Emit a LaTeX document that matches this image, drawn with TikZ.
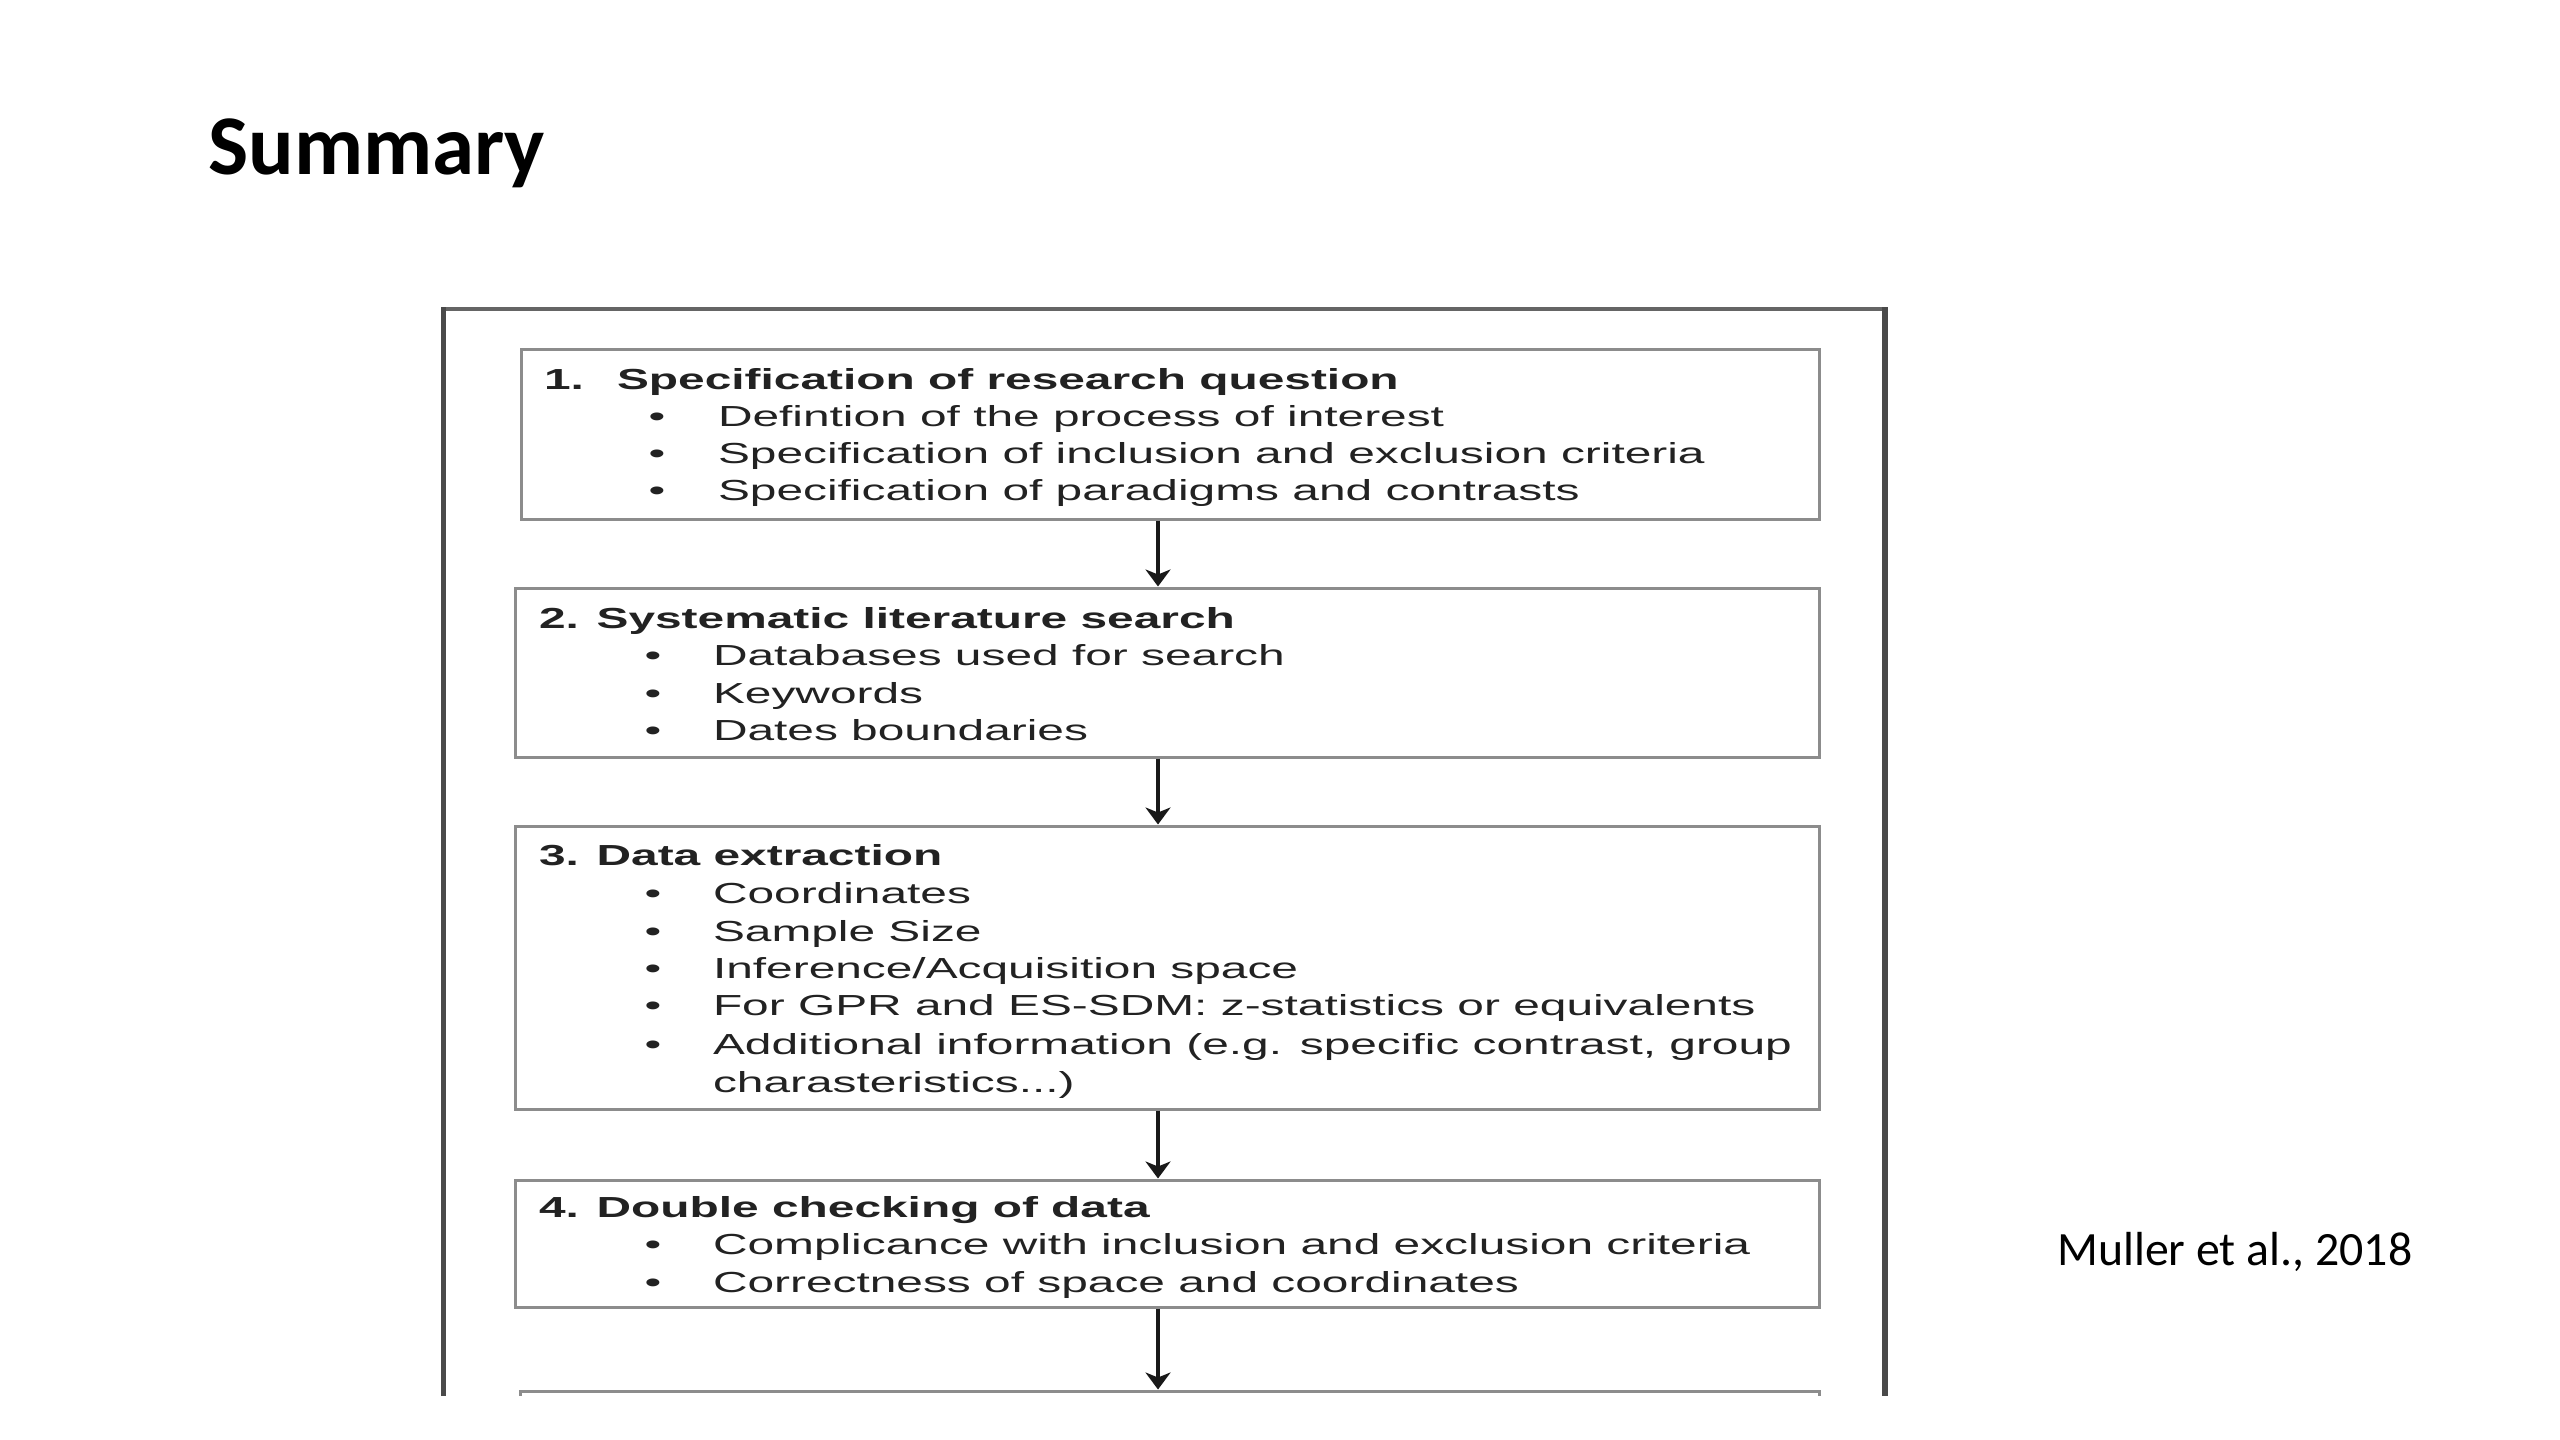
\documentclass[tikz,border=0pt]{standalone}
\usepackage{fontspec}
\usetikzlibrary{arrows.meta}
\newfontfamily\figfont[FakeStretch=1.65]{Liberation Sans}
\newfontfamily\slidefont{Carlito}
\definecolor{boxgray}{HTML}{8C8C8C}
\definecolor{framegray}{HTML}{4A4A4A}
\definecolor{figtext}{HTML}{222222}
\tikzset{
  stepbox/.style={draw=boxgray, line width=3pt, rectangle, inner sep=0pt, fill=white},
  ftext/.style={anchor=base west, inner sep=0pt, outer sep=0pt, text=figtext, font=\figfont\fontsize{29}{36}\selectfont},
  fbold/.style={ftext, font=\figfont\bfseries\fontsize{29}{36}\selectfont},
  bul/.style={anchor=base, inner sep=0pt, outer sep=0pt, text=figtext, font=\figfont\fontsize{29}{36}\selectfont},
  flow/.style={draw=black!90, line width=4.5pt, -{Stealth[length=17pt,width=25pt,inset=5pt]}},
}
\begin{document}
\begin{tikzpicture}[x=1pt,y=-1pt]
\useasboundingbox (0,0) rectangle (2560,1440);
\fill[white] (0,0) rectangle (2560,1440);

% slide title and citation
\node[anchor=base west, inner sep=0pt, font=\slidefont\bfseries\fontsize{85}{92}\selectfont] (title) at (208,174) {Summary};
\node[anchor=base west, inner sep=0pt, font=\slidefont\fontsize{47.8}{54}\selectfont] (cite) at (2057,1265) {Muller et al., 2018};

\begin{scope}
\clip (0,0) rectangle (2560,1395);
% outer frame
\draw[framegray!85, line width=3.5pt] (443,309) -- (1885,309);
\draw[framegray, line width=5pt] (443,307) -- (443,1400);
\draw[framegray, line width=6.5pt] (1885,307) -- (1885,1400);

% boxes
\node[stepbox, minimum width=1298pt, minimum height=170pt] (b1) at (1170,434) {};
\node[stepbox, minimum width=1304pt, minimum height=169pt] (b2) at (1167,672.5) {};
\node[stepbox, minimum width=1304pt, minimum height=283pt] (b3) at (1167,967.5) {};
\node[stepbox, minimum width=1304pt, minimum height=127pt] (b4) at (1167,1243.5) {};
\node[stepbox, minimum width=1299pt, minimum height=120pt] (b5) at (1169.5,1451) {};

% arrows
\coordinate (ax) at (1158,0);
\draw[flow] (b1.south -| ax) -- (b2.north -| ax);
\draw[flow] (b2.south -| ax) -- (b3.north -| ax);
\draw[flow] (b3.south -| ax) -- (b4.north -| ax);
\draw[flow] (b4.south -| ax) -- (b5.north -| ax);
\end{scope}

% box 1
\node[fbold] (t1n) at (544,389) {1.};
\node[fbold] (t1) at (617,389) {Specification of research question};
\node[bul] (p11) at (657,426) {•};
\node[ftext] (l11) at (718,426) {Defintion of the process of interest};
\node[bul] (p12) at (657,463) {•};
\node[ftext] (l12) at (718,463) {Specification of inclusion and exclusion criteria};
\node[bul] (p13) at (657,500) {•};
\node[ftext] (l13) at (718,500) {Specification of paradigms and contrasts};

% box 2
\node[fbold] (t2) at (539,628) {2. Systematic literature search};
\node[bul] (p21) at (653,665) {•};
\node[ftext] (l21) at (713,665) {Databases used for search};
\node[bul] (p22) at (653,703) {•};
\node[ftext] (l22) at (713,703) {Keywords};
\node[bul] (p23) at (653,740) {•};
\node[ftext] (l23) at (713,740) {Dates boundaries};

% box 3
\node[fbold] (t3) at (539,865) {3. Data extraction};
\node[bul] (p31) at (653,903) {•};
\node[ftext] (l31) at (713,903) {Coordinates};
\node[bul] (p32) at (653,941) {•};
\node[ftext] (l32) at (713,941) {Sample Size};
\node[bul] (p33) at (653,978) {•};
\node[ftext] (l33) at (713,978) {Inference/Acquisition space};
\node[bul] (p34) at (653,1015) {•};
\node[ftext] (l34) at (713,1015) {For GPR and ES-SDM: z-statistics or equivalents};
\node[bul] (p35) at (653,1054) {•};
\node[ftext] (l35) at (713,1054) {Additional information (e.g. specific contrast, group};
\node[ftext] (l36) at (713,1092) {charasteristics...)};

% box 4
\node[fbold] (t4) at (539,1217) {4. Double checking of data};
\node[bul] (p41) at (653,1254) {•};
\node[ftext] (l41) at (713,1254) {Complicance with inclusion and exclusion criteria};
\node[bul] (p42) at (653,1292) {•};
\node[ftext] (l42) at (713,1292) {Correctness of space and coordinates};
\end{tikzpicture}
\end{document}
